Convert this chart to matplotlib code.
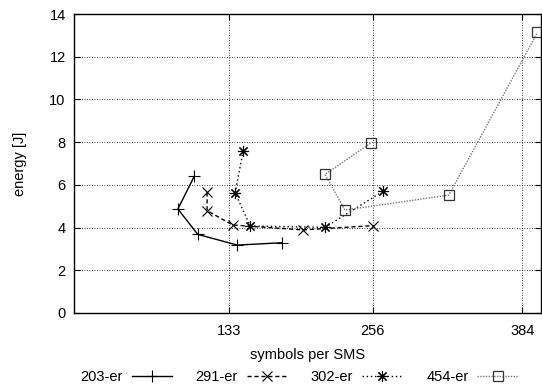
import matplotlib
matplotlib.use("Agg")
import matplotlib.pyplot as plt

plt.rcParams['font.family'] = ['Liberation Sans', 'DejaVu Sans']

x203 = [103, 89, 106, 140, 178]
y203 = [6.4, 4.87, 3.68, 3.18, 3.29]
x291 = [114, 114, 136, 196, 256]
y291 = [5.65, 4.79, 4.12, 3.89, 4.09]
x302 = [145, 138, 151, 215, 265]
y302 = [7.6, 5.63, 4.07, 4.01, 5.71]
x454 = [254, 215, 232, 321, 397]
y454 = [7.95, 6.49, 4.82, 5.52, 13.14]

xticks = [133, 256, 384]
yticks = [0, 2, 4, 6, 8, 10, 12, 14]

FS = 10.5
fig = plt.figure(figsize=(5.42, 3.9), dpi=100)
ax = fig.add_axes([74/542, 1-313/390, 467/542, 299/390])

ast = (8, 2, 0)
ax.plot(x203, y203, color='black', lw=1.0, marker='+', ms=8, mew=0.8,
        label='203-er')
ax.plot(x291, y291, color='black', lw=1.0, ls=(0, (3, 2)), marker='x', ms=7,
        mew=0.8, label='291-er')
ax.plot(x302, y302, color='black', lw=1.0, ls=(0, (1, 2)), marker=ast, ms=8,
        mew=0.8, label='302-er')
ax.plot(x454, y454, color='#777777', lw=1.0, ls=(0, (1, 1)), marker='s', ms=7,
        mew=0.9, mfc='none', mec='#333333', label='454-er')

ax.set_xlim(0, 400)
ax.set_ylim(0, 14)
ax.set_xticks(xticks)
ax.set_yticks(yticks)
ax.tick_params(direction='in', length=4, width=0.8, labelsize=FS,
               top=True, right=True, pad=6)
ax.tick_params(axis='x', pad=8)
ax.grid(True, color='black', ls=(0, (1, 2)), lw=0.6)
for s in ax.spines.values():
    s.set_linewidth(1.0)

ax.set_xlabel('symbols per SMS', fontsize=FS, labelpad=7)
ax.set_ylabel('energy [J]', fontsize=FS, labelpad=16)

fig.legend(loc='center', bbox_to_anchor=(0.552, 1-377/390), ncol=4,
           frameon=False, fontsize=FS, markerfirst=False, handlelength=2.8,
           columnspacing=1.6, handletextpad=0.6, borderpad=0)

fig.savefig('out.png', dpi=100)
